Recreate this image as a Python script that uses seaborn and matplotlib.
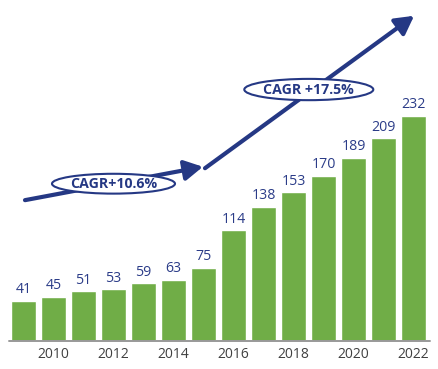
import matplotlib
matplotlib.use("Agg")
import matplotlib.pyplot as plt
from matplotlib.patches import Ellipse
import seaborn as sns
import pandas as pd

# Data
years = [2009, 2010, 2011, 2012, 2013, 2014, 2015, 2016, 2017, 2018, 2019, 2020, 2021, 2022]
values = [41, 45, 51, 53, 59, 63, 75, 114, 138, 153, 170, 189, 209, 232]
cagr_labels = ["CAGR+10.6%", "CAGR +17.5%"]

green = "#70AD47"
navy = "#253884"

df = pd.DataFrame({"year": [str(y) for y in years], "value": values})

sns.set_theme(style="white")
plt.rcParams["font.family"] = ["Open Sans", "DejaVu Sans"]

fig = plt.figure(figsize=(4.39, 3.69), dpi=100)
ax = fig.add_axes([0, 28.5 / 369, 1, 340.5 / 369])

sns.barplot(data=df, x="year", y="value", color=green, saturation=1,
            width=0.83, ax=ax)
ax.bar_label(ax.containers[0], fontsize=10.2, color="#2B3C88", padding=2.5)

ax.set_xlim(-0.783, 13.85)
ax.set_ylim(0, 351.8)
ax.set_xlabel("")
ax.set_ylabel("")
ax.set_yticks([])

# only even years get a tick label
idx = [i for i, y in enumerate(years) if y % 2 == 0]
ax.set_xticks(idx)
ax.set_xticklabels([str(years[i]) for i in idx], fontsize=10, color="#404040")
ax.tick_params(axis="x", length=0, pad=5)

for s in ["top", "right", "left", "bottom"]:
    ax.spines[s].set_visible(False)
ax.axhline(0, xmin=(9.5 / 439), xmax=(430 / 439), color="#999999", lw=1.4,
           clip_on=False)

# growth arrows
arrow_kw = dict(arrowstyle="-|>,head_length=1.0,head_width=0.55", lw=3,
                color=navy, mutation_scale=11, shrinkA=0, shrinkB=0)
ax.annotate("", xy=(5.98, 179.5), xytext=(0.05, 145), arrowprops=arrow_kw)
ax.annotate("", xy=(13.02, 335.5), xytext=(6.05, 178), arrowprops=arrow_kw)

# CAGR bubbles
bubbles = [(3.0, 162.0, 4.1, 20.5), (9.51, 259.3, 4.3, 22.0)]
for (cx, cy, w, h), lab in zip(bubbles, cagr_labels):
    ax.add_patch(Ellipse((cx, cy), w, h, facecolor="white", edgecolor=navy,
                         lw=1.5, zorder=5))
    ax.text(cx, cy, lab, ha="center", va="center", fontsize=10.2,
            fontweight="bold", color=navy, zorder=6)

fig.savefig("out.png", dpi=100)
